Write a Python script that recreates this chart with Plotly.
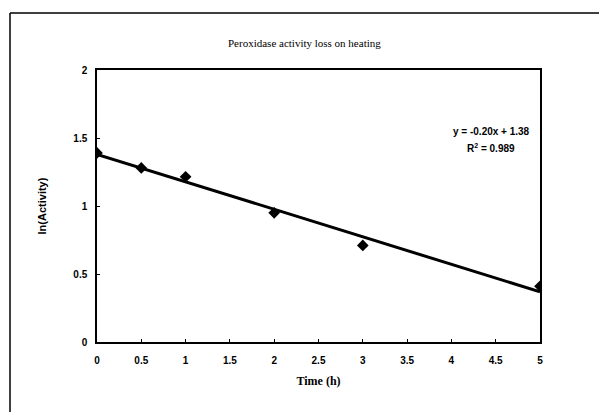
import numpy as np
import plotly.graph_objects as go

time_h = [0, 0.5, 1, 2, 3, 5]
ln_activity = [1.39, 1.28, 1.215, 0.95, 0.71, 0.41]
x_ticks = [0, 0.5, 1, 1.5, 2, 2.5, 3, 3.5, 4, 4.5, 5]
y_ticks = [0, 0.5, 1, 1.5, 2]
title_text = "Peroxidase activity loss on heating"
eq_text = "y = -0.20x + 1.38"
r2_text = "R<sup>2</sup> = 0.989"

slope, intercept = np.polyfit(time_h, ln_activity, 1)
fit_x = [min(time_h), max(time_h)]
fit_y = [slope * v + intercept for v in fit_x]

OFF = 8  # page body margin
W, H = 607 - OFF, 412 - OFF
L, R, T, B = 97 - OFF, 67, 70 - OFF, 70
pw, ph = W - L - R, H - T - B

def px(xp):
    return (xp - OFF - L) / pw

def py(yp):
    return (H - B - (yp - OFF)) / ph

fig = go.Figure()
fig.add_trace(go.Scatter(x=fit_x, y=fit_y, mode="lines",
                         line=dict(color="black", width=3), showlegend=False))
fig.add_trace(go.Scatter(x=time_h, y=ln_activity, mode="markers",
                         marker=dict(symbol="diamond", size=9, color="black"),
                         showlegend=False))

axis_common = dict(showgrid=False, zeroline=False, showline=True, linecolor="black",
                   linewidth=1.5, mirror=True, ticks="inside", ticklen=3,
                   tickcolor="black",
                   tickfont=dict(family="Arial, Liberation Sans", size=10, color="black"))

fig.update_xaxes(range=[0, 5], tickvals=x_ticks, ticktext=[f"<b>{v:g}</b>" for v in x_ticks],
                 ticklabelstandoff=8,
                 title=dict(text="<b>Time (h)</b>",
                            font=dict(family="Times New Roman, Liberation Serif", size=12, color="black"),
                            standoff=12),
                 **axis_common)
fig.update_yaxes(range=[0, 2], tickvals=y_ticks, ticktext=[f"<b>{v:g}</b>" for v in y_ticks],
                 ticklabelstandoff=6,
                 title=dict(text="<b>ln(Activity)</b>",
                            font=dict(family="Arial, Liberation Sans", size=11, color="black"),
                            standoff=24),
                 **axis_common)

fig.add_annotation(x=px(304), y=py(43), xref="paper", yref="paper", text=title_text,
                   xanchor="center", yanchor="middle",
                   showarrow=False, font=dict(family="Times New Roman, Liberation Serif", size=11, color="black"))
fig.add_annotation(x=4.45, y=1.545, text=f"<b>{eq_text}</b>", showarrow=False,
                   font=dict(family="Arial, Liberation Sans", size=10, color="black"))
fig.add_annotation(x=4.45, y=1.43, text=f"<b>{r2_text}</b>", showarrow=False,
                   font=dict(family="Arial, Liberation Sans", size=10, color="black"))

# outer chart frame (top and left edges visible)
fig.add_shape(type="line", xref="paper", yref="paper", x0=px(10), x1=px(607), y0=py(13), y1=py(13),
              line=dict(color="black", width=1.5))
fig.add_shape(type="line", xref="paper", yref="paper", x0=px(10), x1=px(10), y0=py(13), y1=py(412),
              line=dict(color="black", width=1.5))

fig.update_layout(width=W, height=H, margin=dict(l=L, r=R, t=T, b=B),
                  plot_bgcolor="white", paper_bgcolor="white")

fig.write_html("out.html")
